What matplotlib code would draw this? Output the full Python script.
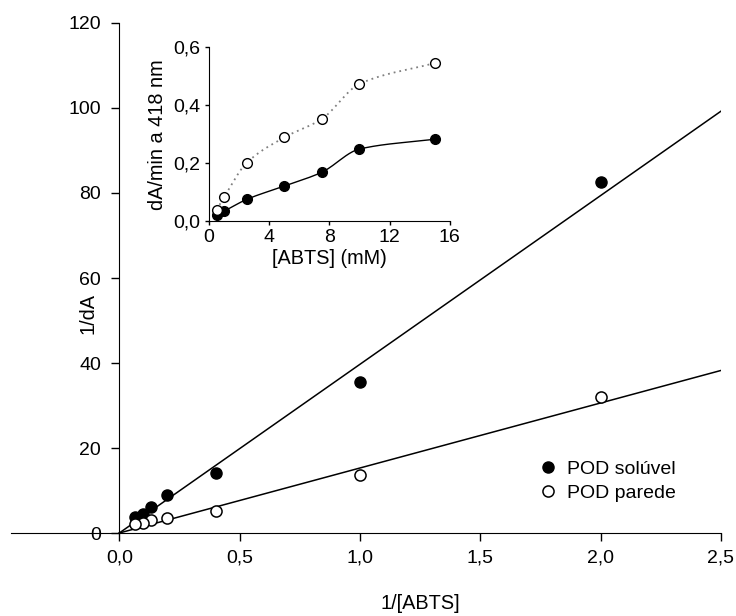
import matplotlib
matplotlib.use("Agg")
import matplotlib.pyplot as plt
import numpy as np
from matplotlib.ticker import FuncFormatter

plt.rcParams['font.family'] = ['Liberation Sans', 'DejaVu Sans']

# Lineweaver-Burk data (1/[ABTS] vs 1/dA)
inv_abts = [2.0, 1.0, 0.4, 0.2, 0.133, 0.1, 0.0667]
inv_dA_soluvel = [82.6, 35.6, 14.2, 9.0, 6.1, 4.5, 3.8]
inv_dA_parede = [32.1, 13.7, 5.2, 3.5, 3.0, 2.4, 2.1]

# linear regression lines (slope, intercept)
fit_soluvel = (39.7, 0.0)
fit_parede = (15.3, 0.0)
fit_range = [0.0, 2.5]

# inset: rate vs substrate concentration
abts_mM = [0.5, 1.0, 2.5, 5.0, 7.5, 10.0, 15.0]
rate_soluvel = [0.020, 0.034, 0.075, 0.121, 0.169, 0.249, 0.283]
rate_parede = [0.039, 0.083, 0.201, 0.289, 0.353, 0.474, 0.546]


def pchip(x, y, n=200):
    # monotone cubic curve through the points (Fritsch-Carlson)
    x = np.asarray(x, float)
    y = np.asarray(y, float)
    h = np.diff(x)
    d = np.diff(y) / h
    m = np.zeros_like(y)
    for i in range(1, len(x) - 1):
        if d[i - 1] * d[i] > 0:
            w1 = 2 * h[i] + h[i - 1]
            w2 = h[i] + 2 * h[i - 1]
            m[i] = (w1 + w2) / (w1 / d[i - 1] + w2 / d[i])
    m[0] = d[0]
    m[-1] = d[-1]
    xs = np.linspace(x[0], x[-1], n)
    idx = np.clip(np.searchsorted(x, xs) - 1, 0, len(x) - 2)
    t = (xs - x[idx]) / h[idx]
    h00 = 2 * t**3 - 3 * t**2 + 1
    h10 = t**3 - 2 * t**2 + t
    h01 = -2 * t**3 + 3 * t**2
    h11 = t**3 - t**2
    ys = (h00 * y[idx] + h10 * h[idx] * m[idx]
          + h01 * y[idx + 1] + h11 * h[idx] * m[idx + 1])
    return xs, ys


def comma(fmt):
    return FuncFormatter(lambda v, p: (fmt % v).replace(".", ","))


fig = plt.figure(figsize=(7.36, 6.16), dpi=100)
ax = fig.add_axes([0.0149, 0.1347, 0.9647, 0.828])

fx = np.array(fit_range)
ax.plot(fx, fit_soluvel[0] * fx + fit_soluvel[1], color="k", lw=1.1)
ax.plot(fx, fit_parede[0] * fx + fit_parede[1], color="k", lw=1.1)
ax.plot(inv_abts, inv_dA_soluvel, "o", color="k", ms=8, ls="", label="POD solúvel")
ax.plot(inv_abts, inv_dA_parede, "o", mfc="white", mec="k", mew=1.1, ms=8, ls="",
        label="POD parede")

ax.set_xlim(-0.45, 2.5)
ax.set_ylim(0, 120)
ax.spines["left"].set_position(("data", 0))
ax.spines["top"].set_visible(False)
ax.spines["right"].set_visible(False)
ax.set_xticks([0, 0.5, 1.0, 1.5, 2.0, 2.5])
ax.set_yticks(range(0, 121, 20))
ax.xaxis.set_major_formatter(comma("%.1f"))
ax.tick_params(direction="out", length=6, width=1, labelsize=14, pad=6)
ax.tick_params(axis="y", pad=7)
ax.set_xlabel("1/[ABTS]", fontsize=14.3)
ax.set_ylabel("1/dA", fontsize=14.3)
ax.xaxis.set_label_coords(0.576, -0.12)
ax.yaxis.set_label_coords(0.122, 0.43)
ax.legend(loc="upper left", bbox_to_anchor=(0.745, 0.142), frameon=False,
          fontsize=14, handlelength=0.8, handletextpad=0.6, labelspacing=0.3,
          borderaxespad=0, borderpad=0)

# inset
ins = fig.add_axes([0.284, 0.641, 0.327, 0.282])
sx, sy = pchip(abts_mM, rate_soluvel)
px, py = pchip(abts_mM, rate_parede)
ins.plot(sx, sy, color="k", lw=1.0)
ins.plot(px, py, color="gray", lw=1.3, ls=(0, (1, 2.2)))
ins.plot(abts_mM, rate_soluvel, "o", color="k", ms=7, ls="", clip_on=False, zorder=3)
ins.plot(abts_mM, rate_parede, "o", mfc="white", mec="k", mew=1.0, ms=7, ls="",
         clip_on=False, zorder=3)
ins.set_xlim(0, 16)
ins.set_ylim(0, 0.6)
ins.set_xticks([0, 4, 8, 12, 16])
ins.set_yticks([0, 0.2, 0.4, 0.6])
ins.yaxis.set_major_formatter(comma("%.1f"))
ins.spines["top"].set_visible(False)
ins.spines["right"].set_visible(False)
ins.tick_params(direction="out", length=3, width=1, labelsize=14, pad=3)
ins.set_xlabel("[ABTS] (mM)", fontsize=14.3, labelpad=2)
ins.set_ylabel("dA/min a 418 nm", fontsize=14.3, labelpad=5)
ins.patch.set_alpha(0)

fig.savefig("out.png", dpi=100)
